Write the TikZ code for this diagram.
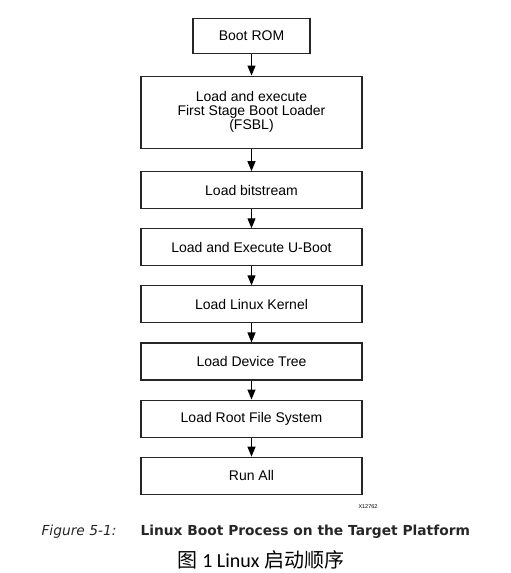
\documentclass[tikz,border=0pt]{standalone}
\usepackage{fontspec}
\setmainfont{Liberation Sans}
\newfontfamily\capfont{DejaVu Sans}
\newfontfamily\cjk{Noto Sans CJK SC}
\newfontfamily\calfont{Carlito}
\usetikzlibrary{arrows.meta,positioning}

\begin{document}
\begin{tikzpicture}[>={Triangle[length=10pt,width=8pt]},node distance=19pt,
    box/.style={draw=black!85,line width=1.1pt,minimum width=221pt,minimum height=37pt,
      inner sep=0pt,align=center,font=\fontsize{14}{14}\selectfont}]
    \useasboundingbox (0,0) rectangle (511pt,-573pt);
    \node[box,minimum width=117pt,minimum height=35pt] (rom) at (251.5pt,-36pt) {Boot ROM};
    \node[box,minimum height=72pt] (fsbl) [below=21.5pt of rom] {Load and execute\\First Stage Boot Loader\\(FSBL)};
    \node[box] (bit) [below=22.5pt of fsbl] {Load bitstream};
    \node[box] (uboot) [below=of bit] {Load and Execute U-Boot};
    \node[box] (kernel) [below=of uboot] {Load Linux Kernel};
    \node[box] (dtree) [below=of kernel] {Load Device Tree};
    \node[box] (rootfs) [below=of dtree] {Load Root File System};
    \node[box] (run) [below=of rootfs] {Run All};

    \node[font=\fontsize{5.5}{6}\selectfont,anchor=east] (xnum) at (381pt,-507pt) {X12762};
    \node[font=\capfont\fontsize{13.8}{14}\selectfont\itshape,anchor=west,text=black!85] (fignum) at (38pt,-532pt) {Figure 5-1:};
    \node[font=\capfont\fontsize{13.8}{14}\selectfont\bfseries,anchor=west,text=black!85] (figtitle) at (137pt,-532pt) {Linux Boot Process on the Target Platform};
    \node[font=\fontsize{20}{21}\selectfont] (cntitle) at (261pt,-560pt) {\cjk 图\calfont{} 1 Linux \cjk 启动顺序};

    \path[->,line width=1.1pt]
    (rom) edge (fsbl)
    (fsbl) edge (bit)
    (bit) edge (uboot)
    (uboot) edge (kernel)
    (kernel) edge (dtree)
    (dtree) edge (rootfs)
    (rootfs) edge (run)
    ;
  \end{tikzpicture}
\end{document}
